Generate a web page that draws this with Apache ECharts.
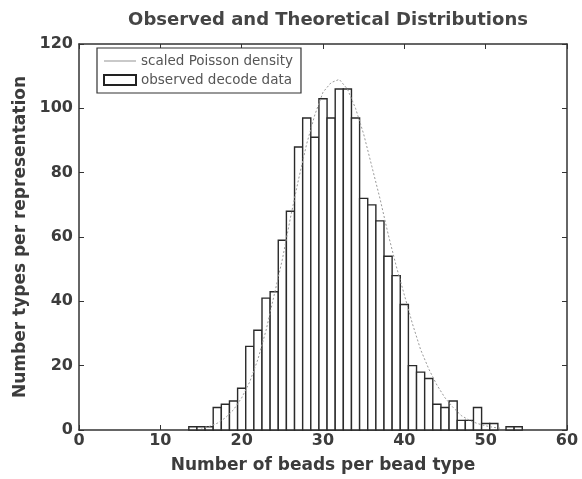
<!DOCTYPE html>
<html>
<head>
<meta charset="utf-8">
<script src="https://cdn.jsdelivr.net/npm/echarts@6/dist/echarts.min.js"></script>
<style>
html, body { margin: 0; padding: 0; background: #fff; }
#main { width: 582px; height: 479px; }
</style>
</head>
<body>
<div id="main"></div>
<script>
// histogram bins (bead counts) and observed counts
var binCenters = [14, 15, 16, 17, 18, 19, 20, 21, 22, 23, 24, 25, 26, 27, 28, 29, 30, 31, 32, 33,
	34, 35, 36, 37, 38, 39, 40, 41, 42, 43, 44, 45, 46, 47, 48, 49, 50, 51, 53, 54];
var observed = [1, 1, 1, 7, 8, 9, 13, 26, 31, 41, 43, 59, 68, 88, 97, 91, 103, 97, 106, 106,
	97, 72, 70, 65, 54, 48, 39, 20, 18, 16, 8, 7, 9, 3, 3, 7, 2, 2, 1, 1];

// scaled poisson curve
var curveX = [15, 16, 17, 18, 19, 20, 21, 22, 23, 24, 25, 26, 27, 28, 29, 30, 31, 32, 33, 34,
	35, 36, 37, 38, 39, 40, 41, 42, 43, 44, 45, 46, 47, 48, 49, 50, 51, 52];
var curveY = [0.6, 1.1, 2.1, 3.8, 6.3, 10, 15, 22, 31, 42, 53, 66, 78, 89, 98, 105, 108, 109, 106, 100,
	92, 82, 72, 61, 51, 42, 33, 25, 19, 14, 10, 7, 4.5, 3, 2, 1.3, 0.8, 0.5];

var xTicks = [0, 10, 20, 30, 40, 50, 60];
var yTicks = [0, 20, 40, 60, 80, 100, 120];

var textColor = '#3c3c3c';
var font = 'DejaVu Sans';

var barData = [];
for (var i = 0; i < binCenters.length; i++) {
	barData.push([binCenters[i], observed[i]]);
}
var lineData = [];
for (var j = 0; j < curveX.length; j++) {
	lineData.push([curveX[j], curveY[j]]);
}

function axisLine() {
	return { show: true, onZero: false, lineStyle: { color: '#333', width: 1.5 } };
}
function axisTick() {
	return { show: true, inside: true, length: 5, lineStyle: { color: '#333' } };
}

var myChart = echarts.init(document.getElementById('main'));

var option = {
	animation: false,
	backgroundColor: '#fff',
	title: {
		text: 'Observed and Theoretical Distributions',
		left: 323,
		textAlign: 'center',
		top: 6,
		textStyle: { fontFamily: font, fontSize: 18, fontWeight: 'bold', color: '#454545' }
	},
	legend: {
		orient: 'vertical',
		left: 97,
		top: 48,
		width: 210,
		padding: [6, 8, 6, 6],
		itemGap: 5,
		itemWidth: 32,
		itemHeight: 10,
		borderColor: '#333',
		borderWidth: 1.2,
		backgroundColor: '#fff',
		textStyle: { fontFamily: font, fontSize: 13.5, color: '#555' },
		data: [
			{ name: 'scaled Poisson density', icon: 'path://M0,4.5 L30,4.5 L30,5.5 L0,5.5 Z', itemStyle: { color: '#999' } },
			{ name: 'observed decode data', icon: 'rect', itemStyle: { color: '#fff', borderColor: '#222', borderWidth: 2 } }
		]
	},
	grid: {
		left: 79,
		right: 15,
		top: 44,
		bottom: 49
	},
	xAxis: [{
		type: 'value',
		min: xTicks[0],
		max: xTicks[xTicks.length - 1],
		interval: 10,
		name: 'Number of beads per bead type',
		nameLocation: 'middle',
		nameGap: 27,
		nameTextStyle: { fontFamily: font, fontSize: 17, fontWeight: 'bold', color: textColor },
		axisLine: axisLine(),
		axisTick: axisTick(),
		axisLabel: { fontFamily: font, fontSize: 16, fontWeight: 'bold', color: textColor, margin: 3 },
		splitLine: { show: false }
	}, {
		type: 'value',
		position: 'top',
		min: xTicks[0],
		max: xTicks[xTicks.length - 1],
		interval: 10,
		axisLine: axisLine(),
		axisTick: axisTick(),
		axisLabel: { show: false },
		splitLine: { show: false }
	}],
	yAxis: [{
		type: 'value',
		min: yTicks[0],
		max: yTicks[yTicks.length - 1],
		interval: 20,
		name: 'Number types per representation',
		nameLocation: 'middle',
		nameGap: 49,
		nameTextStyle: { fontFamily: font, fontSize: 17, fontWeight: 'bold', color: textColor },
		axisLine: axisLine(),
		axisTick: axisTick(),
		axisLabel: { fontFamily: font, fontSize: 16, fontWeight: 'bold', color: textColor, margin: 6 },
		splitLine: { show: false }
	}, {
		type: 'value',
		position: 'right',
		min: yTicks[0],
		max: yTicks[yTicks.length - 1],
		interval: 20,
		axisLine: axisLine(),
		axisTick: axisTick(),
		axisLabel: { show: false },
		splitLine: { show: false }
	}],
	series: [{
		name: 'observed decode data',
		type: 'custom',
		xAxisIndex: 0,
		yAxisIndex: 0,
		data: barData,
		renderItem: function(params, api) {
			var x = api.value(0);
			var y = api.value(1);
			var p1 = api.coord([x - 0.5, y]);
			var p2 = api.coord([x + 0.5, 0]);
			return {
				type: 'rect',
				shape: { x: p1[0], y: p1[1], width: p2[0] - p1[0], height: p2[1] - p1[1] },
				style: { fill: '#fff', stroke: '#2a2a2a', lineWidth: 1.4 }
			};
		},
		z: 2
	}, {
		// same scales, bound to the top/right axes so the box is drawn
		name: 'scaled Poisson density',
		type: 'line',
		xAxisIndex: 1,
		yAxisIndex: 1,
		data: lineData,
		showSymbol: false,
		symbol: 'none',
		lineStyle: { color: '#999', width: 1, type: [2, 2] },
		z: 3
	}]
};

myChart.setOption(option);
</script>
</body>
</html>
